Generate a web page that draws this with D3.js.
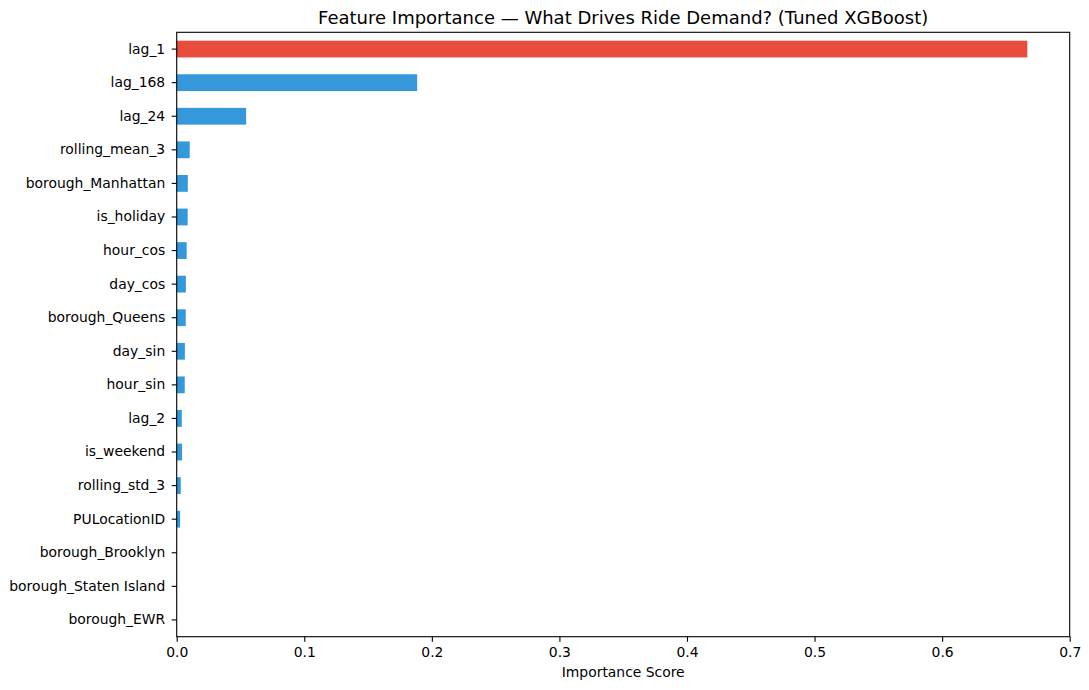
<!DOCTYPE html>
<html><head><meta charset="utf-8">
<script src="https://cdn.jsdelivr.net/npm/d3@7"></script>
<style>body{margin:0;background:#fff;} text{font-family:"DejaVu Sans",sans-serif;}</style>
</head><body>
<svg id="chart" width="1089" height="690"></svg>
<script>
const features = ["lag_1","lag_168","lag_24","rolling_mean_3","borough_Manhattan","is_holiday","hour_cos","day_cos","borough_Queens","day_sin","hour_sin","lag_2","is_weekend","rolling_std_3","PULocationID","borough_Brooklyn","borough_Staten Island","borough_EWR"];
const importance = [0.6668,0.1885,0.0544,0.0102,0.0087,0.0086,0.0078,0.0072,0.0071,0.0064,0.0063,0.0040,0.0042,0.0032,0.0027,0,0,0];
const xTicks = [0,0.1,0.2,0.3,0.4,0.5,0.6,0.7];
const titleText = "Feature Importance — What Drives Ride Demand? (Tuned XGBoost)";
const xLabel = "Importance Score";

const m = {left:176.7, right:1069.7, top:32.3, bottom:636.7};
const svg = d3.select("#chart");
const x = d3.scaleLinear().domain([0,0.7]).range([m.left,m.right]);
const y = d3.scaleBand().domain(features).range([m.top,m.bottom]).paddingInner(0.5).paddingOuter(0.25);

svg.append("g").selectAll("rect").data(features).join("rect")
  .attr("x", x(0))
  .attr("y", d=>y(d))
  .attr("width", (d,i)=>x(importance[i])-x(0))
  .attr("height", y.bandwidth())
  .attr("fill", (d,i)=> i===0 ? "#e74c3c" : "#3498db");

// frame
svg.append("rect").attr("x",m.left).attr("y",m.top).attr("width",m.right-m.left).attr("height",m.bottom-m.top)
  .attr("fill","none").attr("stroke","#000").attr("stroke-width",1.1);

const xAxis = svg.append("g").attr("transform",`translate(0,${m.bottom})`)
  .call(d3.axisBottom(x).tickValues(xTicks).tickFormat(d3.format(".1f")).tickSize(5).tickPadding(5));
xAxis.select(".domain").remove();
xAxis.selectAll("text").attr("font-size",13.9).attr("fill","#000").style("font-family","DejaVu Sans");
xAxis.selectAll("line").attr("stroke","#000").attr("stroke-width",1.1);

const yAxis = svg.append("g").attr("transform",`translate(${m.left},0)`)
  .call(d3.axisLeft(y).tickSize(5).tickPadding(6.5));
yAxis.select(".domain").remove();
yAxis.selectAll("text").attr("font-size",13.9).attr("fill","#000").style("font-family","DejaVu Sans");
yAxis.selectAll("line").attr("stroke","#000").attr("stroke-width",1.1);

svg.append("text").attr("x",(m.left+m.right)/2).attr("y",24).attr("text-anchor","middle")
  .attr("font-size",18).text(titleText);
svg.append("text").attr("x",(m.left+m.right)/2).attr("y",677).attr("text-anchor","middle")
  .attr("font-size",13.9).text(xLabel);
</script>
</body></html>
